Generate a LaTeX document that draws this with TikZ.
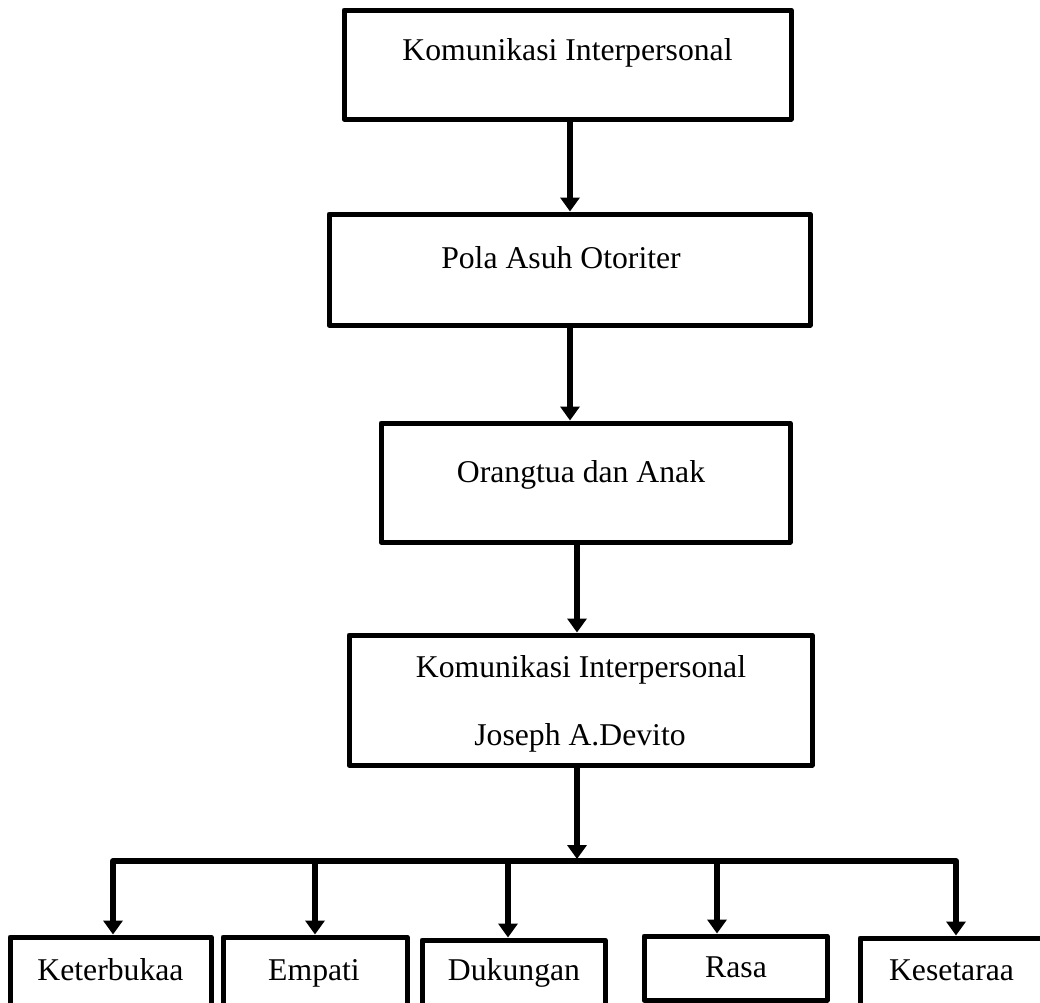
\documentclass[tikz,border=0pt]{standalone}
\usepackage{fontspec}
\setmainfont{Liberation Serif}
\usetikzlibrary{arrows.meta}
\begin{document}
\begin{tikzpicture}[x=1pt,y=-1pt,
  box/.style={draw=black, line width=5pt, line join=round, inner sep=0pt},
  txt/.style={inner sep=0pt, anchor=base, font=\fontsize{31.7}{38}\selectfont},
  arr/.style={line width=6pt, line join=round, -{Triangle[width=19pt,length=14pt]}},
  arrtwo/.style={line width=6pt, line join=round, {Triangle[width=19pt,length=14pt]}-{Triangle[width=19pt,length=14pt]}}]
\useasboundingbox (0,0) rectangle (1040,1002);
\clip (0,0) rectangle (1040,1002);
% boxes
\node[box, minimum width=447pt, minimum height=109pt] (b1) at (567.5,64.5) {};
\node[box, minimum width=481pt, minimum height=111pt] (b2) at (569.5,269.5) {};
\node[box, minimum width=409pt, minimum height=119pt] (b3) at (585.5,482.5) {};
\node[box, minimum width=463pt, minimum height=130pt] (b4) at (580.5,700) {};
\node[box, minimum width=201pt, minimum height=78pt] (k1) at (110.5,976) {};
\node[box, minimum width=184pt, minimum height=78pt] (k2) at (315,976) {};
\node[box, minimum width=183pt, minimum height=75pt] (k3) at (513.5,977.5) {};
\node[box, minimum width=183pt, minimum height=64pt] (k4) at (735.5,968) {};
\node[box, minimum width=186pt, minimum height=77pt] (k5) at (953,976.5) {};
% texts
\node[txt] (t1) at (567.5,60) {Komunikasi Interpersonal};
\node[txt] (t2) at (561,268) {Pola Asuh Otoriter};
\node[txt] (t3) at (581,482) {Orangtua dan Anak};
\node[txt] (t4a) at (581,677) {Komunikasi Interpersonal};
\node[txt] (t4b) at (580,745) {Joseph A.Devito};
\node[txt] (s1) at (110.5,980) {Keterbukaa};
\node[txt] (s2) at (314,980) {Empati};
\node[txt] (s3) at (514,980) {Dukungan};
\node[txt] (s4) at (736,977) {Rasa};
\node[txt] (s5) at (951.5,980) {Kesetaraa};
% connectors
\draw[arr] ([xshift=2.5pt]b1.south) -- ([xshift=2.5pt]b1.south |- b2.north);
\draw[arr] ([xshift=0.5pt]b2.south) -- ([xshift=0.5pt]b2.south |- b3.north);
\draw[arr] ([xshift=-8.5pt]b3.south) -- ([xshift=-8.5pt]b3.south |- b4.north);
\coordinate (j) at (577,859);
\draw[arr] ([xshift=-3.5pt]b4.south) -- (j);
\coordinate (d1) at (113,861);
\coordinate (d2) at (315,861);
\coordinate (d3) at (508,861);
\coordinate (d4) at (717,861);
\coordinate (d5) at (956,861);
\draw[arrtwo] (d1 |- k1.north) -- (d1) -- (d5) -- (d5 |- k5.north);
\draw[arr] (d2) -- (d2 |- k2.north);
\draw[arr] (d3) -- (d3 |- k3.north);
\draw[arr] (d4) -- (d4 |- k4.north);
\end{tikzpicture}
\end{document}
